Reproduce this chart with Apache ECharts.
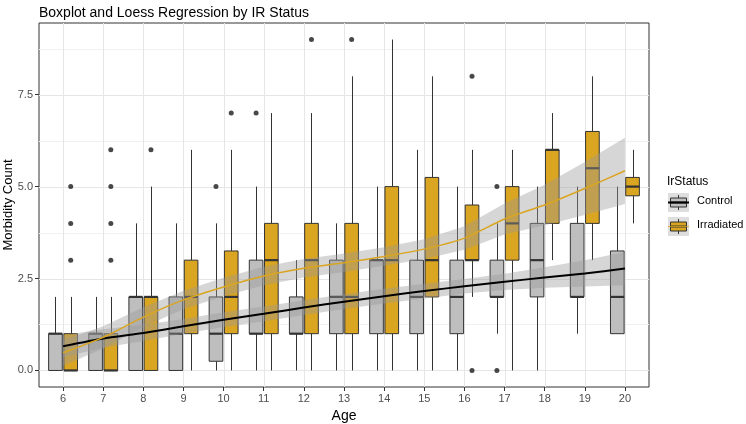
<!DOCTYPE html>
<html><head><meta charset="utf-8">
<script src="https://cdn.jsdelivr.net/npm/echarts@6/dist/echarts.min.js"></script>
<style>html,body{margin:0;padding:0;background:#fff}#c{width:746px;height:424px}</style>
</head><body><div id="c"></div>
<script>
// ---- data ----
const ages = [6,7,8,9,10,11,12,13,14,15,16,17,18,19,20];
const ctrlLow  = [0,0,0,0,0,   0,0,0,0,0,   0,1,0,1,1];
const ctrlQ1   = [0,0,0,0,0.25,1,1,1,1,1,   1,2,2,2,1];
const ctrlMed  = [1,1,2,1,1,   1,1,2,3,2,   2,2,3,2,2];
const ctrlQ3   = [1,1,2,2,2,   3,2,3,3,3,   3,3,4,4,3.25];
const ctrlHigh = [2,2,4,4,4,   5,3,4,5,6,   5,4,5,5,5];
const irrLow   = [0,0,0,0,0,   0,0,0,0,0,   2,0,3,3,4];
const irrQ1    = [0,0,0,1,1,   1,1,1,1,2,   3,3,4,4,4.75];
const irrMed   = [0,0,2,2,2,   3,3,2,3,3,   3,4,6,5.5,5];
const irrQ3    = [1,1,2,3,3.25,4,4,4,5,5.25,4.5,5,6,6.5,5.25];
const irrHigh  = [2,2,5,6,6,   7,7,8,9,8,   6,6,7,8,6];
const ctrlOutliers = [[10,5],[11,7],[17,0],[17,5]];
const irrOutliers  = [[6,3],[6,4],[6,5],[7,3],[7,4],[7,5],[7,6],[8,6],[10,7],[12,9],[13,9],[16,0],[16,8]];
const ctrlFit = [0.66,0.87,1.02,1.2,1.38,1.54,1.71,1.87,2.02,2.16,2.29,2.41,2.53,2.64,2.77];
const ctrlSE  = [0.3,0.25,0.22,0.2,0.2,0.2,0.2,0.2,0.2,0.2,0.2,0.22,0.28,0.36,0.45];
const irrFit  = [0.48,0.9,1.45,1.92,2.27,2.57,2.78,2.93,3.1,3.3,3.6,4.12,4.5,4.95,5.43];
const irrSE   = [0.35,0.3,0.27,0.25,0.25,0.25,0.25,0.25,0.25,0.27,0.32,0.42,0.55,0.72,0.9];
const xTicks = ages;
const yTicks = [0, 2.5, 5, 7.5];
const yMinor = [1.25, 3.75, 6.25, 8.75];
const groups = ['Control', 'Irradiated'];
const yTitle = 'Morbidity Count';

// ---- style ----
const FONT = 'Liberation Sans, Arial, sans-serif';
const X_MIN = 5.4, X_MAX = 20.6, Y_MIN = -0.45, Y_MAX = 9.45;
const DODGE = 0.19, BOXW = 0.34;
const COL = { Control: '#bebebe', Irradiated: '#DAA520' };
const LINECOL = { Control: '#000000', Irradiated: '#DAA520' };
const EDGE = '#333333';

const chart = echarts.init(document.getElementById('c'), null, { renderer: 'canvas' });

function boxSeries(name, off, lo, q1, med, q3, hi) {
  return {
    type: 'custom', name: name, z: 3, clip: true,
    data: ages.map((a, i) => [a, lo[i], q1[i], med[i], q3[i], hi[i]]),
    renderItem: function (params, api) {
      const x = api.value(0) + off;
      const pLo = api.coord([x, api.value(1)]);
      const pQ1 = api.coord([x, api.value(2)]);
      const pMed = api.coord([x, api.value(3)]);
      const pQ3 = api.coord([x, api.value(4)]);
      const pHi = api.coord([x, api.value(5)]);
      const left = api.coord([x - BOXW / 2, 0])[0];
      const right = api.coord([x + BOXW / 2, 0])[0];
      const cx = Math.round(pLo[0]) + 0.5;
      const ls = { stroke: EDGE, lineWidth: 1 };
      const kids = [];
      if (pHi[1] < pQ3[1]) kids.push({ type: 'line', shape: { x1: cx, y1: pQ3[1], x2: cx, y2: pHi[1] }, style: ls });
      if (pLo[1] > pQ1[1]) kids.push({ type: 'line', shape: { x1: cx, y1: pLo[1], x2: cx, y2: pQ1[1] }, style: ls });
      kids.push({ type: 'rect', shape: { x: left, y: pQ3[1], width: right - left, height: pQ1[1] - pQ3[1] },
            style: { fill: COL[name], stroke: EDGE, lineWidth: 1 } });
      kids.push({ type: 'line', shape: { x1: left, y1: pMed[1], x2: right, y2: pMed[1] }, style: { stroke: EDGE, lineWidth: 2.2 } });
      return { type: 'group', children: kids };
    }
  };
}

function ribbonSeries(name, fit, se) {
  const rows = ages.map((a, i) => [a, fit[i] - se[i], fit[i] + se[i]]);
  return {
    type: 'custom', name: name + ' band', z: 5, clip: true, silent: true,
    data: rows,
    renderItem: function (params, api) {
      if (params.dataIndex !== 0) return null;
      const up = rows.map(r => api.coord([r[0], r[2]]));
      const dn = rows.map(r => api.coord([r[0], r[1]])).reverse();
      return { type: 'polygon', shape: { points: up.concat(dn) }, style: { fill: 'rgba(153,153,153,0.4)' } };
    }
  };
}

function gridSeries() {
  const items = [];
  yTicks.forEach(v => items.push(['y', v, 1]));
  yMinor.forEach(v => items.push(['y', v, 0]));
  xTicks.forEach(v => items.push(['x', v, 1]));
  return {
    type: 'custom', name: 'grid', z: 1, silent: true, clip: true,
    data: items.map((d, i) => [i]),
    renderItem: function (params, api) {
      const d = items[params.dataIndex];
      let p1, p2;
      if (d[0] === 'y') { p1 = api.coord([X_MIN, d[1]]); p2 = api.coord([X_MAX, d[1]]); }
      else { p1 = api.coord([d[1], Y_MIN]); p2 = api.coord([d[1], Y_MAX]); }
      const r = v => Math.round(v) + 0.5;
      const shape = d[0] === 'y' ? { x1: p1[0], y1: r(p1[1]), x2: p2[0], y2: r(p2[1]) } : { x1: r(p1[0]), y1: p1[1], x2: r(p2[0]), y2: p2[1] };
      return { type: 'line', shape: shape, style: { stroke: d[2] ? '#e6e6e6' : '#f0f0f0', lineWidth: 1 } };
    }
  };
}

function fitSeries(name, fit, w) {
  return {
    type: 'line', name: name + ' fit', z: 6, silent: true, symbol: 'none',
    data: ages.map((a, i) => [a, fit[i]]),
    lineStyle: { color: LINECOL[name], width: w }, smooth: 0.2
  };
}

function outlierSeries(name, pts, off) {
  return {
    type: 'scatter', name: name + ' out', z: 4, silent: true,
    symbolSize: 5, itemStyle: { color: '#1a1a1a' },
    data: pts.map(p => [p[0] + off, p[1]])
  };
}

// legend graphic + y title
const LX = 668, KW = 21, KH = 19, KY = [193, 217];
const legendEls = [
  { type: 'text', left: 667, top: 176, style: { text: 'IrStatus', font: '12px ' + FONT, fill: '#000' } },
  { type: 'text', x: 8, y: 205, rotation: Math.PI / 2,
    style: { text: yTitle, font: '13px ' + FONT, fill: '#000', align: 'center', verticalAlign: 'middle' } }
];
groups.forEach((g, i) => {
  const y = KY[i];
  legendEls.push({ type: 'rect', shape: { x: LX, y: y, width: KW, height: KH }, style: { fill: '#dedede' } });
  legendEls.push({ type: 'line', shape: { x1: LX + KW / 2, y1: y + 2, x2: LX + KW / 2, y2: y + KH - 2 }, style: { stroke: EDGE, lineWidth: 1 } });
  legendEls.push({ type: 'rect', shape: { x: LX + 2.5, y: y + 5, width: KW - 5, height: KH - 10 }, style: { fill: COL[g], stroke: EDGE, lineWidth: 1 } });
  legendEls.push({ type: 'line', shape: { x1: LX + 2.5, y1: y + KH / 2, x2: LX + KW - 2.5, y2: y + KH / 2 }, style: { stroke: EDGE, lineWidth: 2 } });
  legendEls.push({ type: 'line', shape: { x1: LX, y1: y + KH / 2, x2: LX + KW, y2: y + KH / 2 }, style: { stroke: LINECOL[g], lineWidth: g === 'Control' ? 2 : 1.2, opacity: g === 'Control' ? 1 : 0.8 } });
  legendEls.push({ type: 'text', left: 697, top: y + KH / 2 - 7, style: { text: g, font: '11px ' + FONT, fill: '#000' } });
});

const option = {
  animation: false,
  backgroundColor: '#ffffff',
  textStyle: { fontFamily: FONT },
  title: { text: 'Boxplot and Loess Regression by IR Status', left: 34, top: 1,
    textStyle: { fontSize: 14, fontWeight: 'normal', color: '#000', fontFamily: FONT } },
  grid: { left: 39, right: 97, top: 23, bottom: 37, show: true, borderColor: '#333', borderWidth: 1,
    backgroundColor: 'transparent', containLabel: false, outerBoundsMode: 'none' },
  xAxis: {
    type: 'value', min: X_MIN, max: X_MAX,
    name: 'Age', nameLocation: 'middle', nameGap: 20,
    nameTextStyle: { fontSize: 14, color: '#000', fontFamily: FONT },
    axisLine: { show: false, onZero: false },
    axisTick: { show: true, customValues: xTicks, length: 4, lineStyle: { color: '#333' } },
    axisLabel: { customValues: xTicks, fontSize: 11, color: '#4d4d4d', margin: 6, formatter: v => String(v) },
    splitLine: { show: false }
  },
  yAxis: {
    type: 'value', min: Y_MIN, max: Y_MAX,
    axisLine: { show: false, onZero: false },
    axisTick: { show: true, customValues: yTicks, length: 4, lineStyle: { color: '#333' } },
    axisLabel: { customValues: yTicks, fontSize: 11, color: '#4d4d4d', margin: 6, formatter: v => v.toFixed(1) },
    splitLine: { show: false }
  },
  graphic: legendEls,
  series: [
    gridSeries(),
    boxSeries('Control', -DODGE, ctrlLow, ctrlQ1, ctrlMed, ctrlQ3, ctrlHigh),
    boxSeries('Irradiated', DODGE, irrLow, irrQ1, irrMed, irrQ3, irrHigh),
    outlierSeries('Control', ctrlOutliers, -DODGE),
    outlierSeries('Irradiated', irrOutliers, DODGE),
    ribbonSeries('Control', ctrlFit, ctrlSE),
    ribbonSeries('Irradiated', irrFit, irrSE),
    fitSeries('Control', ctrlFit, 2),
    fitSeries('Irradiated', irrFit, 1.5)
  ]
};
chart.setOption(option);
</script></body></html>
